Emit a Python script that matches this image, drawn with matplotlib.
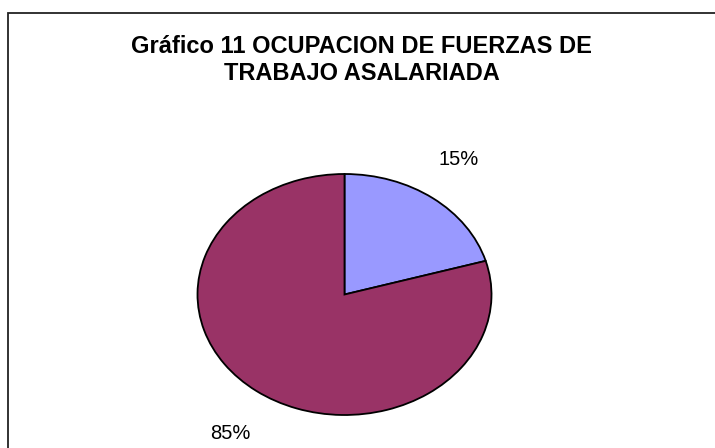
import numpy as np
import matplotlib
matplotlib.use("Agg")
import matplotlib.pyplot as plt
from matplotlib.patches import Rectangle

# slice sizes as drawn in the picture, labels as printed on it
shares = [20.5, 79.5]
labels = ['15%', '85%']
colors = ['#9999FF', '#993366']
title = 'Gráfico 11 OCUPACION DE FUERZAS DE\nTRABAJO ASALARIADA'

plt.rcParams['font.family'] = ['Liberation Sans', 'DejaVu Sans']

W, H = 715, 448
fig = plt.figure(figsize=(W / 100, H / 100), dpi=100)

# outer chart frame (runs off the right and bottom edge)
fig.add_artist(Rectangle((8 / W, -0.1), 1.2, 1.1 - 13 / H, transform=fig.transFigure,
                         fill=False, edgecolor='#222222', linewidth=1.3))

# pie drawn as an ellipse: center (344.5, 294.5) px, radii 147 x 120.5 px
cx, cy, rx, ry = 344.5, 294.5, 147, 120.5
ax = fig.add_axes([(cx - rx) / W, (H - cy - ry) / H, 2 * rx / W, 2 * ry / H])
wedges, _ = ax.pie(shares, colors=colors, startangle=90, counterclock=False,
                   wedgeprops=dict(edgecolor='black', linewidth=1.3))

# data labels outside the slices, like the spreadsheet places them
for w, lab in zip(wedges, labels):
    ang = np.deg2rad((w.theta1 + w.theta2) / 2 + 2.6)
    ax.text(1.376 * np.cos(ang), 1.376 * np.sin(ang) - 0.02, lab, ha='center',
            va='center', fontsize=14.5)

ax.set_xlim(-1, 1)
ax.set_ylim(-1, 1)
ax.set_aspect('auto')
ax.axis('off')

fig.text(361.5 / W, 1 - 60 / H, title, ha='center', va='center', fontsize=17,
         fontweight='bold', linespacing=1.25)

fig.savefig('out.png', dpi=100)
